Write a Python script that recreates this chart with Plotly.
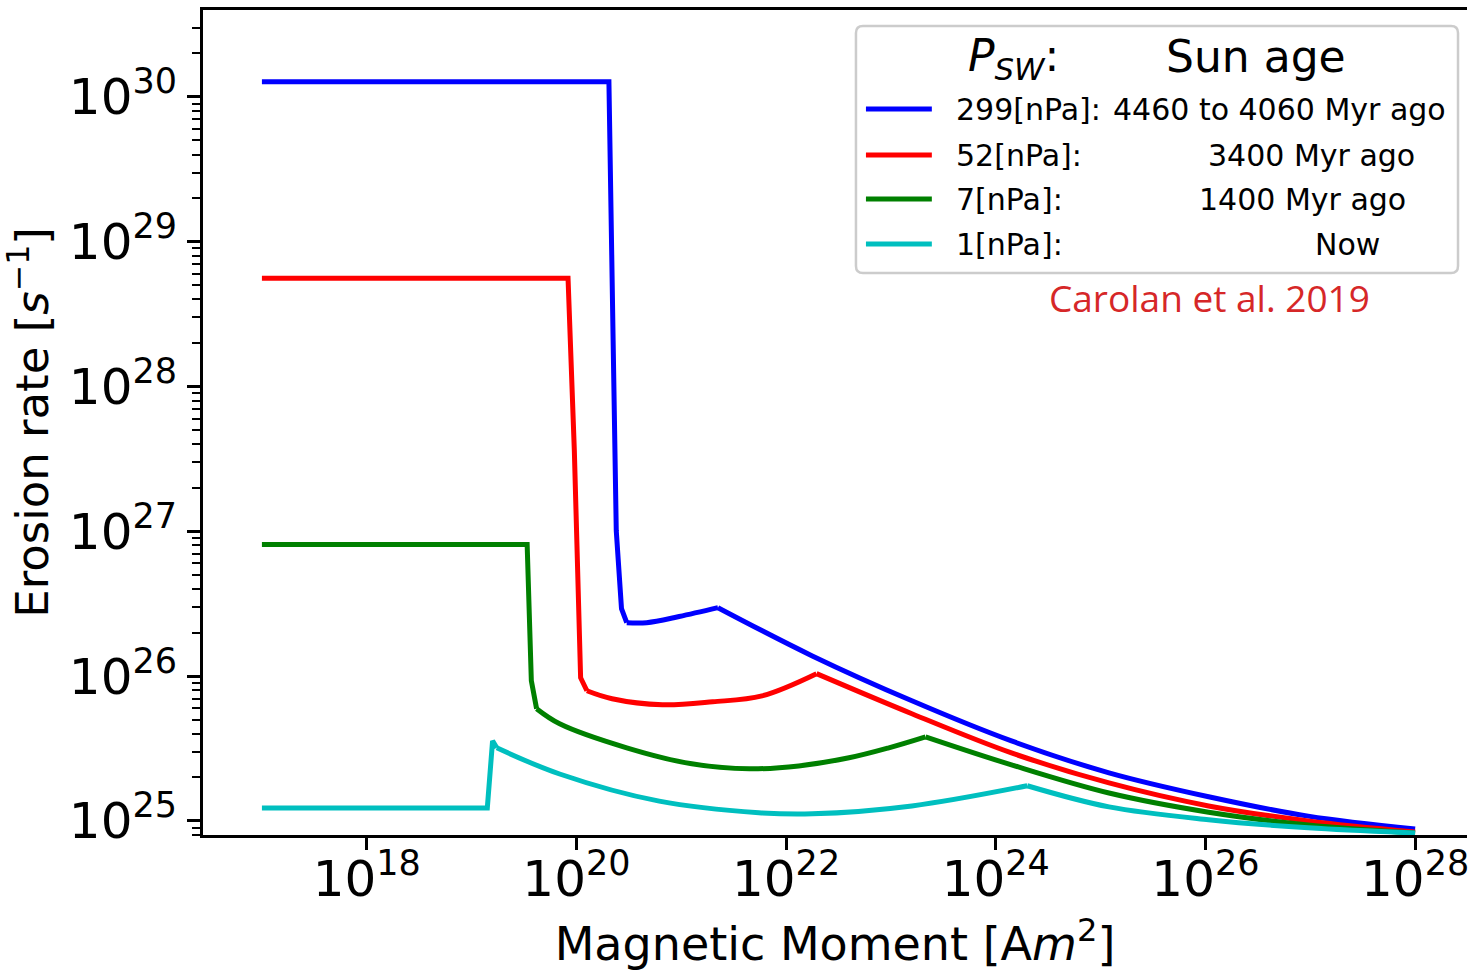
import plotly.graph_objects as go

# Magnetic moment grid (log10 of A m^2) and erosion rates (s^-1) per solar-wind pressure
logm_299 = [17.0, 20.31, 20.35, 20.38, 20.43, 20.48, 20.67, 20.98, 21.35, 22.25,
            23.20, 24.15, 25.08, 26.03, 26.98, 28.0]
rate_299 = [1.27e30, 1.27e30, 2.09e28, 1.01e27, 2.92e26, 2.34e26, 2.34e26, 2.58e26,
            2.97e26, 1.38e26, 6.76e25, 3.57e25, 2.15e25, 1.47e25, 1.08e25, 8.81e24]

logm_52 = [17.0, 19.92, 19.98, 20.01, 20.04, 20.10, 20.34, 20.82, 21.30, 21.77,
           22.29, 23.20, 24.15, 25.08, 26.03, 26.98, 28.0]
rate_52 = [5.60e28, 5.60e28, 3.62e27, 4.36e26, 9.75e25, 7.93e25, 6.98e25, 6.34e25,
           6.65e25, 7.31e25, 1.04e26, 5.50e25, 2.95e25, 1.83e25, 1.27e25, 1.00e25, 8.39e24]

logm_7 = [17.0, 19.53, 19.57, 19.62, 19.84, 20.48, 21.10, 21.65, 22.12, 22.60,
          22.98, 23.33, 24.15, 25.08, 26.03, 26.98, 28.0]
rate_7 = [8.11e26, 8.11e26, 9.29e25, 5.96e25, 4.69e25, 3.20e25, 2.48e25, 2.29e25,
          2.40e25, 2.73e25, 3.20e25, 3.81e25, 2.44e25, 1.56e25, 1.15e25, 9.38e24, 8.26e24]

logm_1 = [17.0, 19.15, 19.20, 19.24, 19.84, 20.79, 21.74, 22.25, 23.20, 24.30,
          25.08, 26.03, 26.98, 28.0]
rate_1 = [1.23e25, 1.23e25, 3.57e25, 3.20e25, 2.11e25, 1.37e25, 1.14e25, 1.12e25,
          1.27e25, 1.75e25, 1.25e25, 1.02e25, 8.96e24, 8.26e24]

pressure_labels = ["299[nPa]:", "52[nPa]:", "7[nPa]:", "1[nPa]:"]
age_labels = ["4460 to 4060 Myr ago", "3400 Myr ago", "1400 Myr ago", "Now"]

# (first index, last index, line shape) for the straight drops and the smooth arcs
pieces_299 = [(0, 5, "linear"), (5, 8, "spline"), (8, 15, "spline")]
pieces_52 = [(0, 5, "linear"), (5, 10, "spline"), (10, 16, "spline")]
pieces_7 = [(0, 3, "linear"), (3, 11, "spline"), (11, 16, "spline")]
pieces_1 = [(0, 3, "linear"), (3, 9, "spline"), (9, 13, "spline")]

series = [
    (pressure_labels[0], "#0000ff", logm_299, rate_299, pieces_299),
    (pressure_labels[1], "#ff0000", logm_52, rate_52, pieces_52),
    (pressure_labels[2], "#008000", logm_7, rate_7, pieces_7),
    (pressure_labels[3], "#00bfbf", logm_1, rate_1, pieces_1),
]

W, H = 1469, 971
ML, MR, MT, MB = 203, 0, 10, 136
FONT = "DejaVu Sans"


def fx(px):
    return (px - ML) / (W - ML - MR)


def fy(py):
    return (H - MB - py) / (H - MT - MB)


fig = go.Figure()
for name, color, lm, rate, pieces in series:
    for a, b, shape in pieces:
        fig.add_trace(go.Scatter(
            x=[10 ** v for v in lm[a:b + 1]], y=rate[a:b + 1],
            mode="lines", name=name, legendgroup=name, showlegend=False,
            line=dict(color=color, width=5, shape=shape, smoothing=1.0),
            hoverinfo="skip",
        ))

# legend frame with rounded corners
x0, x1, y0, y1, r = 857, 1460, 26, 273, 7
path = (f"M {fx(x0 + r)},{fy(y0)} L {fx(x1 - r)},{fy(y0)} Q {fx(x1)},{fy(y0)} {fx(x1)},{fy(y0 + r)} "
        f"L {fx(x1)},{fy(y1 - r)} Q {fx(x1)},{fy(y1)} {fx(x1 - r)},{fy(y1)} "
        f"L {fx(x0 + r)},{fy(y1)} Q {fx(x0)},{fy(y1)} {fx(x0)},{fy(y1 - r)} "
        f"L {fx(x0)},{fy(y0 + r)} Q {fx(x0)},{fy(y0)} {fx(x0 + r)},{fy(y0)} Z")
shapes = [dict(type="path", path=path, xref="paper", yref="paper", layer="above",
               fillcolor="white", line=dict(color="#cccccc", width=2.5))]

row_y = [109, 155, 199, 244]
age_x = [1112, 1208, 1199, 1315]
annotations = [
    dict(text="<i>P</i><sub><i>SW</i></sub>:", x=fx(967), y=fy(58), xanchor="left", yanchor="middle",
         font=dict(family=FONT, size=44, color="black")),
    dict(text="Sun age", x=fx(1166), y=fy(56), xanchor="left", yanchor="middle",
         font=dict(family=FONT, size=44, color="black")),
    dict(text="Carolan et al. 2019", x=fx(1048), y=fy(297), xanchor="left", yanchor="middle",
         font=dict(family="Open Sans", size=37, color="#d62728")),
]
for (name, color, *_), yy, lab, ax in zip(series, row_y, age_labels, age_x):
    shapes.append(dict(type="line", xref="paper", yref="paper", layer="above",
                       x0=fx(867), x1=fx(933), y0=fy(yy), y1=fy(yy),
                       line=dict(color=color, width=5)))
    annotations.append(dict(text=name, x=fx(955), y=fy(yy), xanchor="left", yanchor="middle",
                            font=dict(family=FONT, size=30, color="black")))
    annotations.append(dict(text=lab, x=fx(ax), y=fy(yy), xanchor="left", yanchor="middle",
                            font=dict(family=FONT, size=30, color="black")))
for a in annotations:
    a.update(xref="paper", yref="paper", showarrow=False)

axis_common = dict(
    type="log", showgrid=False, zeroline=False, showline=True, linecolor="black", linewidth=3,
    ticks="outside", tickcolor="black", tickwidth=2.5, exponentformat="power",
    ticklabeloverflow="allow",
    tickfont=dict(family=FONT, size=40, color="black"),
)

fig.update_layout(
    width=W, height=H,
    margin=dict(l=ML, r=MR, t=MT, b=MB, pad=0),
    paper_bgcolor="white", plot_bgcolor="white",
    font=dict(family=FONT, color="black"),
    showlegend=False,
    xaxis=dict(axis_common, range=[16.438, 28.495], dtick=2, ticklen=12, mirror=True,
               ticklabelstandoff=-12,
               title=dict(text="Magnetic Moment [A<i>m</i><sup>2</sup>]",
                          font=dict(family=FONT, size=46, color="black"), standoff=22)),
    yaxis=dict(axis_common, range=[24.903, 30.6], dtick=1, ticklen=13, mirror=False,
               ticklabelstandoff=2,
               minor=dict(ticks="outside", ticklen=8, tickwidth=2, tickcolor="black",
                          dtick="D1", showgrid=False),
               title=dict(text="Erosion rate [<i>s</i><sup>\u22121</sup>]",
                          font=dict(family=FONT, size=45, color="black"), standoff=8)),
    shapes=shapes,
    annotations=annotations,
)

fig.write_html("out.html")
